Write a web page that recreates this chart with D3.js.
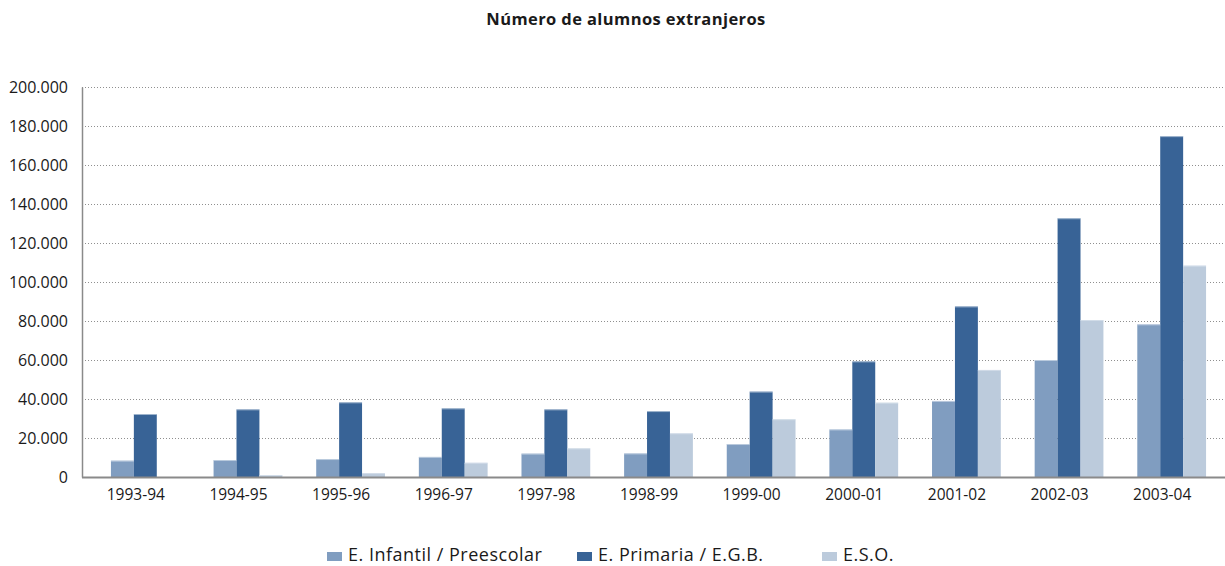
<!DOCTYPE html>
<html>
<head>
<meta charset="utf-8">
<script src="https://cdn.jsdelivr.net/npm/d3@7/dist/d3.min.js"></script>
<style>
  html, body { margin: 0; padding: 0; background: #fff; }
  svg { display: block; font-family: "Open Sans", "Noto Sans", sans-serif; }
</style>
</head>
<body>
<svg id="chart" width="1225" height="566"></svg>
<script>
const categories = ["1993-94","1994-95","1995-96","1996-97","1997-98","1998-99","1999-00","2000-01","2001-02","2002-03","2003-04"];
const seriesNames = ["E. Infantil / Preescolar", "E. Primaria / E.G.B.", "E.S.O."];
const infantil = [8400, 8700, 9200, 10300, 12000, 12100, 16900, 24400, 39000, 60000, 78300];
const primaria = [32300, 34700, 38300, 35200, 34700, 33800, 43800, 59300, 87500, 132700, 174800];
const eso = [0, 1000, 2000, 7300, 14700, 22400, 29600, 38100, 54900, 80500, 108400];
const yTicks = [0, 20000, 40000, 60000, 80000, 100000, 120000, 140000, 160000, 180000, 200000];
const colors = ["#809dc0", "#386396", "#bccbdc"];

const svg = d3.select("#chart");
const plotLeft = 82, plotRight = 1225, plotTop = 87, plotBottom = 477;

const y = d3.scaleLinear().domain([0, 200000]).range([plotBottom, plotTop]);
const x0 = d3.scaleBand().domain(categories).range([94, 1223]).paddingInner(0.33).paddingOuter(0.165);
const x1 = d3.scaleBand().domain(seriesNames).range([0, x0.bandwidth()]);

const fmt = v => d3.format(",")(v).replace(/,/g, ".");

// title
svg.append("text")
  .attr("x", 626).attr("y", 25)
  .attr("text-anchor", "middle")
  .attr("font-weight", "bold")
  .attr("font-size", 16.5)
  .attr("letter-spacing", 0.4)
  .attr("fill", "#1a1a1a")
  .text("Número de alumnos extranjeros");

// gridlines
svg.append("g").selectAll("line")
  .data(yTicks.filter(d => d > 0))
  .join("line")
  .attr("x1", plotLeft).attr("x2", plotRight)
  .attr("y1", d => y(d) + 0.5).attr("y2", d => y(d) + 0.5)
  .attr("stroke", "#8f8f8f")
  .attr("stroke-width", 1)
  .attr("stroke-dasharray", "1,2");

// y axis
const yAxis = d3.axisLeft(y).tickValues(yTicks).tickFormat(fmt).tickSize(0).tickPadding(14);
const gy = svg.append("g").attr("transform", `translate(${plotLeft},0)`).call(yAxis);
gy.select(".domain").attr("stroke", "#8a8a8a").attr("stroke-width", 1.5);
gy.selectAll("text").attr("font-size", 16).attr("fill", "#1a1a1a")
  .attr("font-family", "'Open Sans', sans-serif");

// bars
const data = categories.map((c, i) => ({cat: c, vals: [infantil[i], primaria[i], eso[i]]}));
const groups = svg.append("g").selectAll("g")
  .data(data).join("g")
  .attr("transform", d => `translate(${x0(d.cat)},0)`);
groups.selectAll("rect")
  .data(d => d.vals.map((v, k) => ({k, v})))
  .join("rect")
  .attr("x", d => x1(seriesNames[d.k]))
  .attr("y", d => y(d.v))
  .attr("width", x1.bandwidth())
  .attr("height", d => plotBottom - y(d.v))
  .attr("fill", d => colors[d.k]);
// subtle highlight on top edge
groups.selectAll("line.hl")
  .data(d => d.vals.map((v, k) => ({k, v})).filter(e => e.v > 0))
  .join("line")
  .attr("class", "hl")
  .attr("x1", d => x1(seriesNames[d.k]))
  .attr("x2", d => x1(seriesNames[d.k]) + x1.bandwidth())
  .attr("y1", d => y(d.v) + 0.5)
  .attr("y2", d => y(d.v) + 0.5)
  .attr("stroke", "#dfe7f0")
  .attr("stroke-opacity", 0.6)
  .attr("stroke-width", 1);

// x axis
const xAxis = d3.axisBottom(x0).tickSize(0).tickPadding(12);
const gx = svg.append("g").attr("transform", `translate(0,${plotBottom})`).call(xAxis);
gx.select(".domain").remove();
gx.selectAll("text").attr("font-size", 15.5).attr("fill", "#1a1a1a")
  .attr("dx", -9.5)
  .attr("font-family", "'Open Sans', sans-serif");
svg.append("line")
  .attr("x1", plotLeft).attr("x2", plotRight)
  .attr("y1", plotBottom + 0.5).attr("y2", plotBottom + 0.5)
  .attr("stroke", "#8a8a8a").attr("stroke-width", 2);

// legend
const legendX = [327, 577, 822];
const leg = svg.append("g").selectAll("g")
  .data(seriesNames).join("g")
  .attr("transform", (d, i) => `translate(${legendX[i]},0)`);
leg.append("rect").attr("x", 0).attr("y", 552).attr("width", 15).attr("height", 9)
  .attr("fill", (d, i) => colors[i]);
leg.append("text").attr("x", 21).attr("y", 561)
  .attr("font-size", 18).attr("letter-spacing", 0.5).attr("fill", "#1a1a1a")
  .text(d => d);
</script>
</body>
</html>
